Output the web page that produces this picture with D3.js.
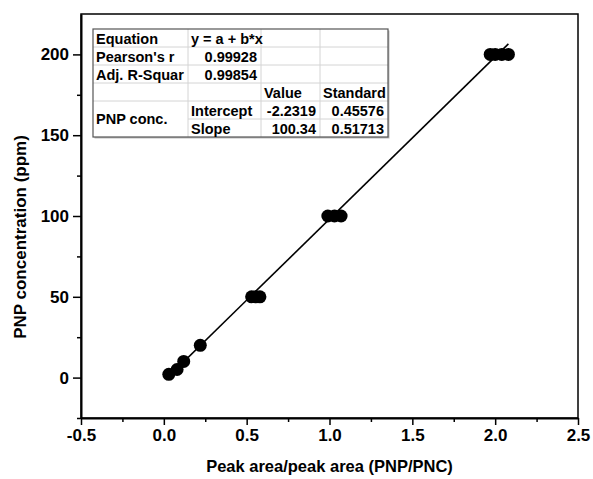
<!DOCTYPE html>
<html>
<head>
<meta charset="utf-8">
<script src="https://cdn.jsdelivr.net/npm/d3@7.9.0/dist/d3.min.js"></script>
<style>
  body { margin: 0; background: #fff; }
  svg { font-family: "Liberation Sans", Arial, sans-serif; font-weight: bold; }
</style>
</head>
<body>
<svg id="chart" width="593" height="479"></svg>
<script>
// calibration points: PNP concentration (ppm) vs peak area ratio
const ratio = [0.03, 0.08, 0.12, 0.22, 0.53, 0.555, 0.58, 0.99, 1.03, 1.07, 1.97, 2.0, 2.04, 2.08];
const concentration = [2, 5, 10, 20, 50, 50, 50, 100, 100, 100, 200, 200, 200, 200];

// linear fit results
const intercept = -2.2319;
const slope = 100.34;

const xMajor = [-0.5, 0, 0.5, 1, 1.5, 2, 2.5];
const xMinor = [-0.25, 0.25, 0.75, 1.25, 1.75, 2.25];
const yMajor = [0, 50, 100, 150, 200];
const yMinor = [-25, 25, 75, 125, 175];

// stats table rows
const tableRows = [
  ["Equation", "y = a + b*x", "", ""],
  ["Pearson's r", "0.99928", "", ""],
  ["Adj. R-Squar", "0.99854", "", ""],
  ["", "", "Value", "Standard"],
  ["PNP conc.", "Intercept", "-2.2319", "0.45576"],
  ["", "Slope", "100.34", "0.51713"]
];

const margin = { top: 14, right: 15, bottom: 61, left: 81 };
const width = 593 - margin.left - margin.right;
const height = 479 - margin.top - margin.bottom;

const svg = d3.select("#chart");
const g = svg.append("g").attr("transform", `translate(${margin.left},${margin.top})`);

const x = d3.scaleLinear().domain([-0.5, 2.5]).range([0, width]);
const y = d3.scaleLinear().domain([-25, 225]).range([height, 0]);

// frame
g.append("rect")
  .attr("width", width).attr("height", height)
  .attr("fill", "none").attr("stroke", "#000").attr("stroke-width", 1.5);

// minor ticks
g.append("g").attr("transform", `translate(0,${height})`)
  .call(d3.axisBottom(x).tickValues(xMinor).tickSize(4).tickSizeOuter(0).tickFormat(""))
  .call(a => a.select(".domain").remove());
g.append("g")
  .call(d3.axisLeft(y).tickValues(yMinor).tickSize(4).tickSizeOuter(0).tickFormat(""))
  .call(a => a.select(".domain").remove());

// major axes (plain hyphen for negatives, as in the original)
const fmtX = d => d.toFixed(1);
g.append("g").attr("transform", `translate(0,${height})`)
  .call(d3.axisBottom(x).tickValues(xMajor).tickSize(7).tickSizeOuter(0).tickPadding(4)
    .tickFormat(fmtX));
g.append("g")
  .call(d3.axisLeft(y).tickValues(yMajor).tickSize(8).tickSizeOuter(0).tickPadding(4));

g.selectAll(".tick line").attr("stroke-width", 1.5);
g.selectAll(".domain").attr("stroke-width", 2);
g.selectAll(".tick text")
  .attr("font-family", "Liberation Sans, Arial, sans-serif")
  .attr("font-weight", "bold").attr("font-size", 17).attr("fill", "#000");

// fit line over data range
const xr = d3.extent(ratio);
g.append("path")
  .datum(xr)
  .attr("fill", "none").attr("stroke", "#000").attr("stroke-width", 1.6)
  .attr("d", d3.line().x(d => x(d)).y(d => y(intercept + slope * d)));

// points
g.selectAll("circle.pt")
  .data(ratio.map((r, i) => [r, concentration[i]]))
  .join("circle")
  .attr("class", "pt")
  .attr("cx", d => x(d[0])).attr("cy", d => y(d[1]))
  .attr("r", 6.5).attr("fill", "#000");

// axis titles
svg.append("text")
  .attr("x", margin.left + width / 2).attr("y", 472)
  .attr("text-anchor", "middle").attr("font-size", 16.5)
  .text("Peak area/peak area (PNP/PNC)");
svg.append("text")
  .attr("transform", `translate(26,237) rotate(-90)`)
  .attr("text-anchor", "middle").attr("font-size", 17)
  .text("PNP concentration (ppm)");

// stats table
const colW = [95, 73, 59, 68];
const rowH = 18;
const tx = margin.left + 12, ty = margin.top + 15;
const colX = [0];
colW.forEach((w, i) => colX.push(colX[i] + w));
const tW = colX[4], tH = rowH * tableRows.length;
const t = svg.append("g").attr("transform", `translate(${tx},${ty})`);

// faint shadow then white body
t.append("rect").attr("x", 1.5).attr("y", 1.5).attr("width", tW).attr("height", tH).attr("fill", "#bbb");
t.append("rect").attr("width", tW).attr("height", tH).attr("fill", "#fff");

// grid lines
const gridColor = "#d4d4d4";
for (let r = 1; r < tableRows.length; r++) {
  // row 5->6 boundary does not cross the merged "PNP conc." cell
  const x0 = r === 5 ? colX[1] : 0;
  t.append("line").attr("x1", x0).attr("x2", tW).attr("y1", r * rowH).attr("y2", r * rowH)
    .attr("stroke", gridColor).attr("stroke-width", 1);
}
for (let c = 1; c < 4; c++) {
  t.append("line").attr("x1", colX[c]).attr("x2", colX[c]).attr("y1", 0).attr("y2", tH)
    .attr("stroke", gridColor).attr("stroke-width", 1);
}
t.append("rect").attr("width", tW).attr("height", tH)
  .attr("fill", "none").attr("stroke", "#555").attr("stroke-width", 1.2);

// cell text
const rightAlign = (r, c) => (r === 1 || r === 2) && c === 1 || (r >= 4 && c >= 2);
tableRows.forEach((row, r) => {
  row.forEach((txt, c) => {
    if (!txt) return;
    let yy = r * rowH + 14.5;
    if (r === 4 && c === 0) yy = 5 * rowH + 5;
    const right = rightAlign(r, c);
    t.append("text")
      .attr("x", right ? colX[c + 1] - 4 : colX[c] + 3)
      .attr("y", yy)
      .attr("text-anchor", right ? "end" : "start")
      .attr("font-size", 14.5)
      .text(txt);
  });
});
</script>
</body>
</html>
